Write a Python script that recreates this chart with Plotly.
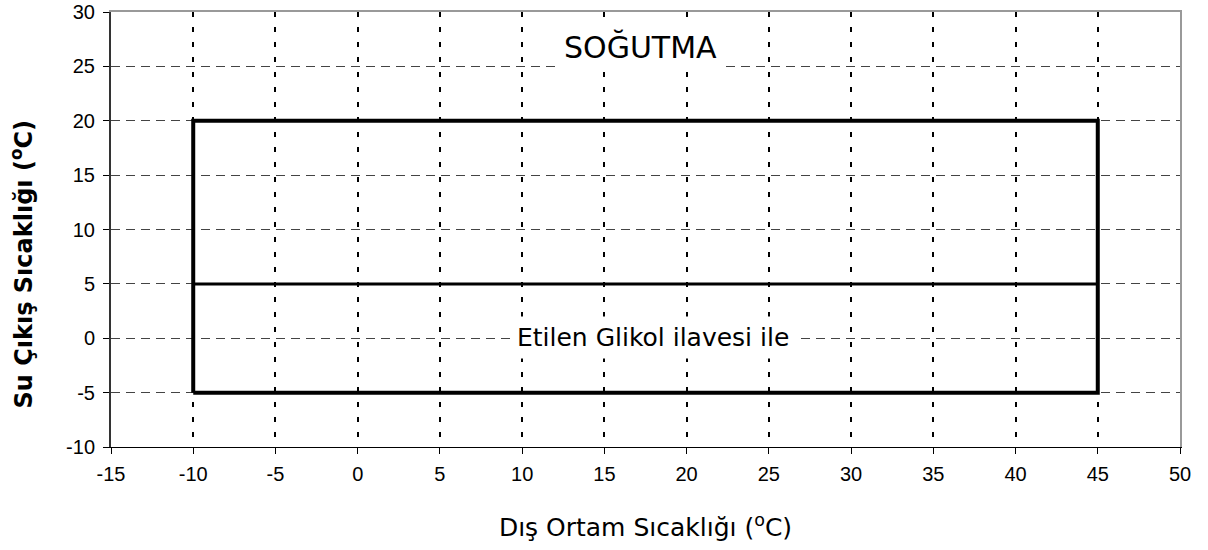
import plotly.graph_objects as go

# Data
outer_x = [-10, 45, 45, -10, -10]
outer_y = [-5, -5, 20, 20, -5]
mid_x = [-10, 45]
mid_y = [5, 5]
x_ticks = list(range(-15, 55, 5))
y_ticks = list(range(-10, 35, 5))
x_tick_text = [str(v) for v in x_ticks]
y_tick_text = [str(v) for v in y_ticks]
title_text = "SOĞUTMA"
note_text = "Etilen Glikol ilavesi ile"
x_title = "Dış Ortam Sıcaklığı (<sup>o</sup>C)"
y_title = "<b>Su Çıkış Sıcaklığı (<sup>o</sup>C)</b>"

fig = go.Figure()
fig.add_trace(go.Scatter(x=outer_x, y=outer_y, mode="lines",
                         line=dict(color="black", width=4), hoverinfo="skip"))
fig.add_trace(go.Scatter(x=mid_x, y=mid_y, mode="lines",
                         line=dict(color="black", width=3), hoverinfo="skip"))

fig.add_annotation(x=17.2, y=26.8, text=title_text, showarrow=False,
                   bgcolor="white", borderpad=6,
                   font=dict(family="DejaVu Sans", size=30, color="black"))
fig.add_annotation(x=17.95, y=0.1, text=note_text, showarrow=False,
                   bgcolor="white", borderpad=6,
                   font=dict(family="DejaVu Sans", size=25, color="black"))
fig.add_annotation(x=-0.083, y=0.42, xref="paper", yref="paper", text=y_title,
                   textangle=-90, showarrow=False, xanchor="center", yanchor="middle",
                   font=dict(family="DejaVu Sans", size=24, color="black"))

fig.update_layout(
    width=1208, height=550,
    margin=dict(l=111, r=28, t=12, b=103),
    paper_bgcolor="white", plot_bgcolor="white",
    showlegend=False,
    font=dict(family="Liberation Sans, Arial", size=20, color="black"),
    xaxis=dict(range=[-15, 50], tickvals=x_ticks, ticktext=x_tick_text,
               ticks="outside", ticklen=6, automargin=False, ticklabelstandoff=3,
               tickcolor="black", showline=True, linecolor="black", linewidth=1,
               showgrid=True, gridcolor="black", gridwidth=2, griddash="5px,10px",
               zeroline=False, tickfont=dict(family="Liberation Sans", size=20),
               title=dict(text=x_title, font=dict(family="DejaVu Sans", size=25), standoff=34)),
    yaxis=dict(range=[-10, 30], tickvals=y_ticks, ticktext=y_tick_text,
               ticks="outside", ticklen=6, automargin=False, ticklabelstandoff=4,
               tickcolor="black", showline=True, linecolor="#333", linewidth=2,
               showgrid=True, gridcolor="#444", gridwidth=1, griddash="9px,6px",
               zeroline=False, tickfont=dict(family="Liberation Sans", size=20)),
    xaxis2=dict(overlaying="x", side="top", range=[-15, 50], showline=True,
                linecolor="#999", linewidth=2, showticklabels=False, ticks="",
                showgrid=False, zeroline=False, automargin=False),
    yaxis2=dict(overlaying="y", side="right", range=[-10, 30], showline=True,
                linecolor="#999", linewidth=2, showticklabels=False, ticks="",
                showgrid=False, zeroline=False, automargin=False),
)
fig.add_trace(go.Scatter(x=[None], y=[None], xaxis="x2", yaxis="y2", showlegend=False))

fig.write_html("out.html", config={"displayModeBar": False},
               post_script="document.body.style.margin='0';document.body.style.overflow='hidden';")
